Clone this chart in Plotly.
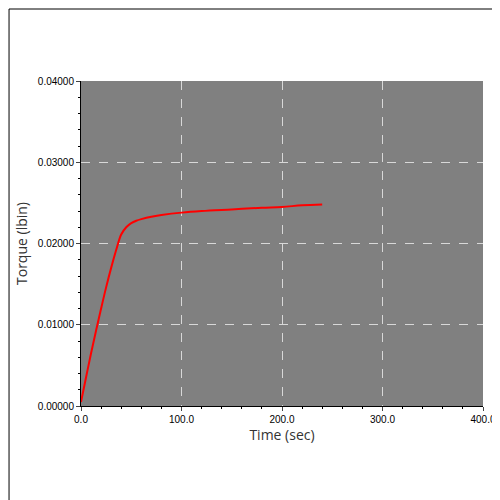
import plotly.graph_objects as go

time_s = [0, 5, 10, 15, 20, 25, 30, 35, 40, 45, 50, 55, 60, 70, 80, 100, 120, 150, 180, 200, 220, 240]
torque = [0.0005, 0.0035, 0.0065, 0.0093, 0.0120, 0.0146, 0.0170, 0.0192, 0.0211, 0.0220, 0.0225, 0.0228, 0.0230,
          0.0233, 0.0235, 0.0238, 0.0240, 0.0242, 0.0244, 0.0245, 0.0247, 0.0248]

fig = go.Figure(go.Scatter(x=time_s, y=torque, mode="lines", line=dict(color="red", width=2), line_shape="spline"))

axis_common = dict(showline=True, linecolor="black", mirror=False, ticks="outside", ticklen=4,
                   gridcolor="#d8d8d8", griddash="dash", gridwidth=1, zeroline=False, automargin=False,
                   tickfont=dict(family="Liberation Sans", size=10, color="black"),
                   minor=dict(ticks="outside", ticklen=2, tickcolor="black", showgrid=False))

fig.update_xaxes(range=[0, 400], dtick=100, tickformat=".1f", minor_dtick=20,
                 title=dict(text="Time (sec)", font=dict(size=14, color="#333"), standoff=2), **axis_common)
fig.update_yaxes(range=[0, 0.04], dtick=0.01, tickformat=".5f", minor_dtick=0.002,
                 title=dict(text="Torque (lbin)", font=dict(size=14, color="#333"), standoff=6), **axis_common)

fig.update_layout(width=500, height=500, plot_bgcolor="#808080", paper_bgcolor="white",
                  margin=dict(l=73, r=25, t=73, b=102), showlegend=False,
                  shapes=[dict(type="rect", xref="paper", yref="paper", x0=-0.179, x1=1.06, y0=-0.311, y1=1.2215,
                               line=dict(color="black", width=1))])

fig.write_html("out.html")
